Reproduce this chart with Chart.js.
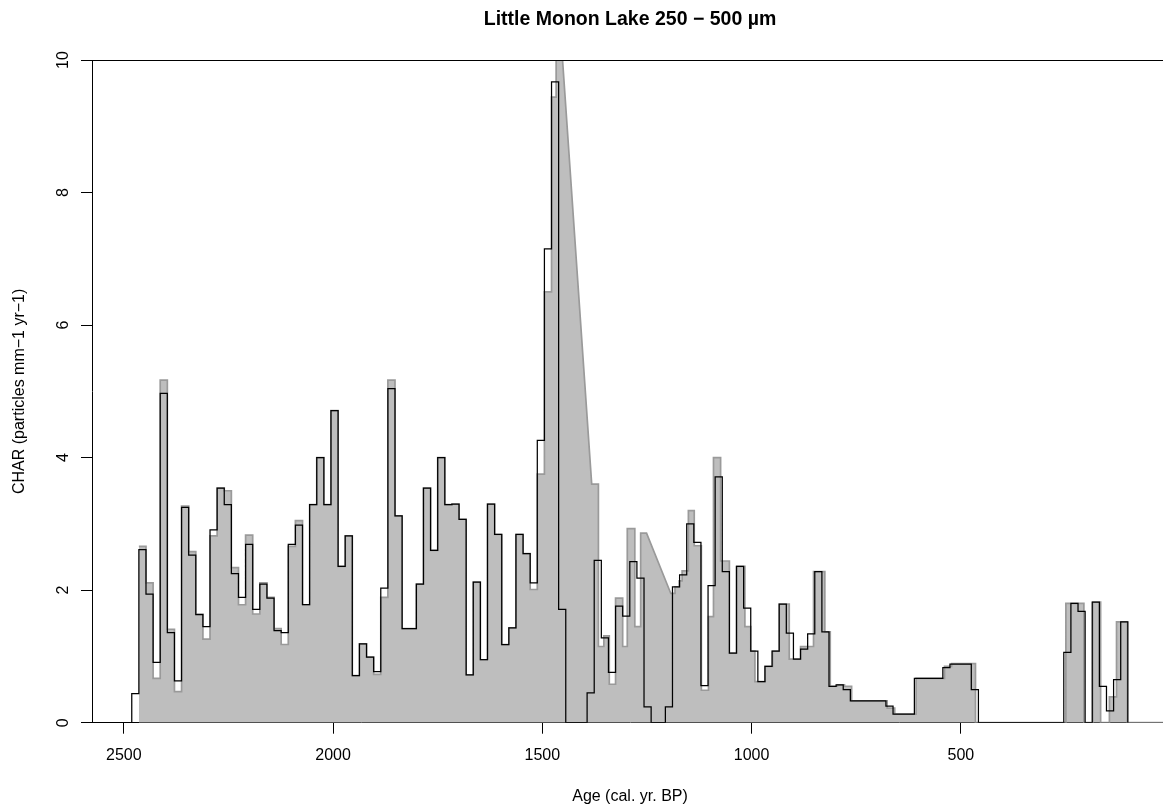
<!DOCTYPE html>
<html>
<head>
<meta charset="utf-8">
<title>Little Monon Lake 250 − 500 µm</title>
<script src="https://cdn.jsdelivr.net/npm/chart.js@4.4.1/dist/chart.umd.min.js"></script>
<style>
  html, body { margin: 0; padding: 0; background: #fff; overflow: hidden; }
  #wrap { position: absolute; left: 0; top: 0; }
</style>
</head>
<body>
<div id="wrap"><canvas id="myChart" width="1172" height="809"></canvas></div>
<script>
'use strict';

// ********** DATA **********

// black step line: resampled CHAR, older edge of each 17-yr bin (last entry closes the final bin)
let binAges = [2600, 2481, 2464, 2447, 2430, 2413, 2396, 2379, 2362, 2345, 2328, 2311, 2294, 2277, 2260, 2243,
  2226, 2209, 2192, 2175, 2158, 2141, 2124, 2107, 2090, 2073, 2056, 2039, 2022, 2005, 1988, 1971, 1954,
  1937, 1920, 1903, 1886, 1869, 1852, 1835, 1818, 1801, 1784, 1767, 1750, 1733, 1716, 1699, 1682, 1665,
  1648, 1631, 1614, 1597, 1580, 1563, 1546, 1529, 1512, 1495, 1478, 1461, 1444, 1427, 1410, 1393, 1376,
  1359, 1342, 1325, 1308, 1291, 1274, 1257, 1240, 1223, 1206, 1189, 1172, 1155, 1138, 1121, 1104, 1087,
  1070, 1053, 1036, 1019, 1002, 985, 968, 951, 934, 917, 900, 883, 866, 849, 832, 815, 798, 781, 764, 747,
  730, 713, 696, 679, 662, 645, 628, 611, 594, 577, 560, 543, 526, 509, 492, 475, 458, 441, 424, 407, 390,
  373, 356, 339, 322, 305, 288, 271, 254, 237, 220, 203, 186, 169, 152, 135, 118, 101];

let charResampled = [0,
  0.44, 2.61, 1.94, 0.91, 4.97, 1.36, 0.63, 3.25, 2.53, 1.63,
  1.45, 2.91, 3.54, 3.29, 2.25, 1.89, 2.69, 1.71, 2.09, 1.88,
  1.39, 1.36, 2.69, 2.98, 1.78, 3.29, 4.00, 3.29, 4.71, 2.36,
  2.82, 0.71, 1.19, 0.99, 0.77, 2.03, 5.04, 3.12, 1.42, 1.42,
  2.09, 3.54, 2.60, 4.00, 3.29, 3.30, 3.07, 0.72, 2.12, 0.95,
  3.30, 2.84, 1.18, 1.43, 2.84, 2.55, 2.11, 4.26, 7.15, 9.67,
  1.71, 0, 0, 0, 0.45, 2.45, 1.28, 0.76, 1.76, 1.61,
  2.43, 2.18, 0.24, 0, 0, 0.24, 2.05, 2.23, 3.00, 2.72,
  0.56, 2.07, 3.71, 2.28, 1.05, 2.36, 1.73, 1.08, 0.62, 0.85,
  1.08, 1.79, 1.35, 0.96, 1.11, 1.34, 2.28, 1.37, 0.55, 0.57,
  0.50, 0.33, 0.33, 0.33, 0.33, 0.33, 0.25, 0.13, 0.13, 0.13,
  0.67, 0.67, 0.67, 0.67, 0.83, 0.885, 0.885, 0.885, 0.50, 0,
  0, 0, 0, 0, 0, 0, 0, 0, 0, 0,
  0, 1.06, 1.80, 1.68, 0, 1.82, 0.55, 0.18, 0.65, 1.52];

// grey polygon: raw CHAR samples, older edge of each sample (null = missing, bridged by the polygon)
let sampleAges = [2464, 2447, 2430, 2413, 2396, 2379, 2362, 2345, 2328, 2311, 2294, 2277, 2260, 2243,
  2226, 2209, 2192, 2175, 2158, 2141, 2124, 2107, 2090, 2073, 2056, 2039, 2022, 2005, 1988, 1971, 1954,
  1937, 1920, 1903, 1886, 1869, 1852, 1835, 1818, 1801, 1784, 1767, 1750, 1733, 1716, 1699, 1682, 1665,
  1648, 1631, 1614, 1597, 1580, 1563, 1546, 1529, 1512, 1495, 1478, 1467, 1456, 1382, 1366, 1353, 1340,
  1325, 1308, 1297, 1279, 1265, 1251, 1193, 1183, 1173, 1166, 1151, 1137, 1120, 1103, 1091, 1074, 1053,
  1036, 1016, 1002, 992, 968, 950, 934, 910, 883, 852, 825, 812, 795, 778, 761, 676, 658, 607, 539, 522,
  465, 249, 206, 185, 166, 145, 128, 102, 5];

let charRaw = [
  2.66, 2.11, 0.67, 5.17, 1.41, 0.47, 3.27, 2.58, 1.64,
  1.26, 2.82, 3.54, 3.50, 2.34, 1.78, 2.83, 1.64, 2.11, 1.89,
  1.42, 1.18, 2.66, 3.05, 1.78, 3.29, 4.00, 3.29, 4.71, 2.36,
  2.82, 0.71, 1.19, 0.99, 0.73, 1.89, 5.17, 3.12, 1.42, 1.42,
  2.09, 3.54, 2.60, 4.00, 3.29, 3.30, 3.07, 0.72, 2.12, 0.95,
  3.30, 2.84, 1.18, 1.43, 2.84, 2.55, 2.01, 3.75, 6.50,
  9.44, 10.4, null, 3.60, 1.15, 1.31, 0.58, 1.88, 1.15, 2.93, 1.45, 2.86, null,
  1.95, 2.05, 2.14, 2.29, 3.20, 2.67, 0.49, 1.60, 4.00, 2.44, 1.05,
  2.36, 1.45, 1.08, 0.62, 0.85, 1.08, 1.79, 0.96, 1.15, 2.28, 1.37, 0.55, 0.57, 0.55, 0.33,
  0.22, 0.13, 0.67, 0.85, 0.89, 0, 1.80, 0, 1.82, 0, 0.39, 1.52, 0];

let xTicks = [2500, 2000, 1500, 1000, 500];
let yTicks = [0, 2, 4, 6, 8, 10];


// ********** HELPER FUNCTIONS **********

// turn bin edges + values into step vertices (skipping missing bins)
function stepPoints(edges, values) {
  let pts = [];
  for (let i = 0; i < values.length; i++) {
    if (values[i] === null) continue;
    pts.push({x: edges[i], y: values[i]});
    pts.push({x: edges[i + 1], y: values[i]});
  }
  return pts;
}

// top (and right) side of the plot box
const frameBox = {
  id: 'frameBox',
  afterDraw(chart) {
    let a = chart.chartArea;
    let ctx = chart.ctx;
    ctx.save();
    ctx.strokeStyle = '#000';
    ctx.lineWidth = 1;
    ctx.beginPath();
    ctx.moveTo(a.left, a.top + 0.5);
    ctx.lineTo(a.right, a.top + 0.5);
    ctx.lineTo(a.right, a.bottom);
    ctx.stroke();
    ctx.restore();
  }
};


// ********** CHART **********

let blackPts = stepPoints(binAges, charResampled);
blackPts.push({x: binAges[binAges.length - 1], y: 0});

Chart.defaults.font.family = '"Liberation Sans", Arial, Helvetica, sans-serif';
Chart.defaults.color = '#000';

new Chart(document.querySelector('#myChart'), {
  type: 'line',
  data: {
    datasets: [
      {
        label: 'resampled',
        data: blackPts,
        borderColor: '#000',
        borderWidth: 1.25,
        pointRadius: 0,
        fill: false,
        order: 0
      },
      {
        label: 'raw',
        data: stepPoints(sampleAges, charRaw),
        borderColor: '#9a9a9a',
        backgroundColor: '#bebebe',
        borderWidth: 1.7,
        pointRadius: 0,
        fill: 'origin',
        order: 1
      }
    ]
  },
  options: {
    responsive: false,
    animation: false,
    layout: {padding: {left: 0, right: 4, top: 0, bottom: 0}},
    plugins: {
      legend: {display: false},
      tooltip: {enabled: false},
      title: {
        display: true,
        text: 'Little Monon Lake 250 − 500 µm',
        font: {size: 19.5, weight: 'bold'},
        color: '#000',
        fullSize: false,
        padding: {top: 8, bottom: 28.6}
      }
    },
    scales: {
      x: {
        type: 'linear',
        reverse: true,
        min: 5,
        max: 2576,
        afterBuildTicks: s => { s.ticks = xTicks.map(v => ({value: v})); },
        afterFit: s => { s.height = 86.3; },
        ticks: {font: {size: 16}, color: '#000', padding: 12, maxRotation: 0, autoSkip: false,
          callback: v => String(v)},
        grid: {drawOnChartArea: false, drawTicks: true, tickLength: 11, color: '#000'},
        border: {display: true, color: '#000'},
        title: {display: true, text: 'Age (cal. yr. BP)', font: {size: 16}, color: '#000',
          padding: {top: 0, bottom: 3}}
      },
      y: {
        min: 0,
        max: 10,
        afterBuildTicks: s => { s.ticks = yTicks.map(v => ({value: v})); },
        afterFit: s => { s.width = 92; },
        ticks: {font: {size: 16}, color: '#000', minRotation: 90, maxRotation: 90,
          crossAlign: 'center', padding: 9, callback: v => String(v)},
        grid: {drawOnChartArea: false, drawTicks: true, tickLength: 11, color: '#000'},
        border: {display: true, color: '#000'},
        title: {display: true, text: 'CHAR (particles mm−1 yr−1)', font: {size: 16}, color: '#000',
          padding: {top: 10.4, bottom: 0}}
      }
    }
  },
  plugins: [frameBox]
});
</script>
</body>
</html>
